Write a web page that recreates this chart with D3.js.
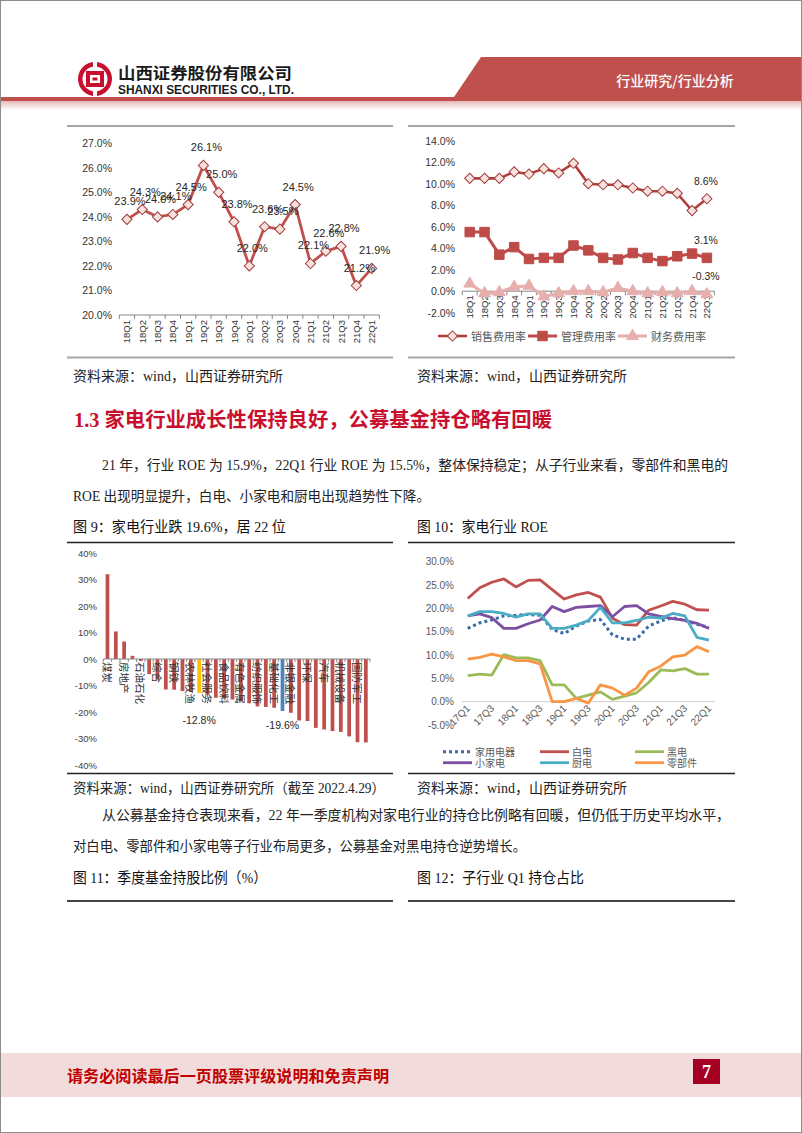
<!DOCTYPE html>
<html>
<head>
<meta charset="utf-8">
<script src="https://cdn.jsdelivr.net/npm/d3@7"></script>
<style>
  body { margin: 0; background: #fff; }
  svg text { font-family: "Liberation Serif", "Noto Sans CJK SC", serif; }
  .sans { font-family: "Liberation Sans", "Noto Sans CJK SC", sans-serif; }
  .cjk { font-family: "Noto Sans CJK SC", sans-serif; }
</style>
</head>
<body>
<svg id="page" width="802" height="1133"></svg>
<script>
// ---- data: gross margin chart (left top) ----
var quarters = ["18Q1","18Q2","18Q3","18Q4","19Q1","19Q2","19Q3","19Q4","20Q1","20Q2","20Q3","20Q4","21Q1","21Q2","21Q3","21Q4","22Q1"];
var grossMargin = [23.9,24.3,24.0,24.1,24.5,26.1,25.0,23.8,22.0,23.6,23.5,24.5,22.1,22.6,22.8,21.2,21.9];

// ---- data: expense ratios (right top) ----
var salesRate = [10.5,10.5,10.5,11.1,10.9,11.4,11.0,11.9,10.0,9.9,9.9,9.6,9.3,9.3,9.1,7.5,8.6];
var mgmtRate  = [5.5,5.5,3.4,4.1,3.0,3.1,3.1,4.25,3.8,3.1,2.95,3.55,3.1,2.8,3.25,3.5,3.1];
var finRate   = [0.7,-0.2,-0.1,0.4,0.5,-0.5,-0.2,0.0,0.0,-0.1,0.3,0.0,-0.2,-0.1,-0.2,0.0,-0.3];
var expenseNames = ["销售费用率","管理费用率","财务费用率"];

// ---- data: industry returns (fig 9) ----
var industries = ["煤炭","银行","房地产","公用事业","石油石化","交通运输","综合","建筑装饰","钢铁","商贸零售",
  "农林牧渔","沪深300","社会服务","医药生物","食品饮料","美容护理","有色金属","轻工制造","纺织服饰","传媒",
  "基础化工","家用电器","非银金融","建筑材料","环保","通信","汽车","计算机","机械设备","电力设备","国防军工","电子"];
var industryChange = [32.0,10.4,6.6,1.2,-0.8,-5.7,-7.7,-11.5,-11.6,-12.1,-12.4,-12.8,-13.5,-14.6,-15.0,-15.3,
  -15.9,-16.7,-17.9,-18.1,-18.4,-19.6,-20.3,-23.2,-23.4,-26.0,-26.6,-27.2,-27.5,-29.2,-31.4,-31.5];
var industryTicks = [-40,-30,-20,-10,0,10,20,30,40];
var highlighted = ["沪深300","家用电器"];

// ---- data: sub-industry ROE (fig 10) ----
var roeQuarters = ["17Q1","17Q2","17Q3","17Q4","18Q1","18Q2","18Q3","18Q4","19Q1","19Q2","19Q3","19Q4",
  "20Q1","20Q2","20Q3","20Q4","21Q1","21Q2","21Q3","21Q4","22Q1"];
var roeHome    = [15.7,16.9,17.5,18.4,18.5,18.7,18.5,15.5,14.6,16.2,17.3,17.6,14.3,13.4,13.4,16.2,17.3,18.0,17.4,16.6,15.9];
var roeWhite   = [22.1,24.4,25.6,26.3,24.6,26.0,26.1,24.0,22.0,22.9,23.4,22.4,17.9,16.5,16.4,19.6,20.5,21.5,20.9,19.7,19.6];
var roeBlack   = [5.6,5.9,5.7,10.1,9.4,9.4,8.8,3.6,3.6,0.7,1.4,2.1,0.5,1.2,1.9,4.1,6.8,6.6,7.1,5.9,5.9];
var roeSmall   = [18.4,18.8,18.0,15.7,15.7,16.7,17.5,20.4,19.3,20.2,20.4,20.6,18.2,20.4,20.6,18.8,18.3,17.8,17.4,16.8,15.7];
var roeKitchen = [18.4,19.3,19.3,18.9,18.1,18.8,18.8,15.7,15.7,16.4,17.4,20.2,16.9,16.9,17.4,18.1,17.9,18.9,18.4,13.8,13.2];
var roeParts   = [9.1,9.5,10.2,9.6,8.8,8.8,8.1,0.0,0.0,0.7,-0.3,3.6,2.9,1.4,2.9,6.4,7.6,9.6,10.0,11.8,10.7];
var roeNames   = ["家用电器","白电","黑电","小家电","厨电","零部件"];

var svg = d3.select("#page");
var RED = "#C0504D";

// ---------------- page frame, header and footer ----------------
svg.append("rect").attr("x", 0.5).attr("y", 0.5).attr("width", 801).attr("height", 1132)
  .attr("fill", "none").attr("stroke", "#8c8c8c");

var grad = svg.append("defs").append("linearGradient").attr("id", "shade")
  .attr("x1", 0).attr("y1", 0).attr("x2", 0).attr("y2", 1);
grad.append("stop").attr("offset", 0).attr("stop-color", "#E6B9B8");
grad.append("stop").attr("offset", 1).attr("stop-color", "#ffffff");
svg.append("rect").attr("x", 1).attr("y", 101).attr("width", 800).attr("height", 9).attr("fill", "url(#shade)");
svg.append("rect").attr("x", 1).attr("y", 97).attr("width", 800).attr("height", 4).attr("fill", RED);
svg.append("path").attr("d", "M481,57 L801,57 L801,100 L452,100 Z").attr("fill", RED);
svg.append("text").attr("class", "cjk").attr("x", 675).attr("y", 80).attr("text-anchor", "middle")
  .attr("dominant-baseline", "central").attr("fill", "#fff").attr("font-size", 14).attr("font-weight", 500)
  .text("行业研究/行业分析");

// logo
var logo = svg.append("g").attr("transform", "translate(95,79)");
logo.append("circle").attr("r", 17).attr("fill", "#C8102E");
logo.append("circle").attr("r", 12.5).attr("fill", "#fff");
logo.append("rect").attr("x", -2).attr("y", -18).attr("width", 4).attr("height", 7).attr("fill", "#fff");
logo.append("rect").attr("x", -2).attr("y", 11).attr("width", 4).attr("height", 7).attr("fill", "#fff");
logo.append("rect").attr("x", -9).attr("y", -8).attr("width", 18).attr("height", 16).attr("fill", "#C8102E");
logo.append("rect").attr("x", -5).attr("y", -4).attr("width", 10).attr("height", 8).attr("fill", "#fff");
logo.append("rect").attr("x", -2.5).attr("y", -1.5).attr("width", 5).attr("height", 3).attr("fill", "#C8102E");

svg.append("text").attr("class", "cjk").attr("x", 118).attr("y", 72).attr("dominant-baseline", "central")
  .attr("font-size", 16).attr("font-weight", 700).attr("fill", "#1a1a1a")
  .attr("textLength", 174).attr("lengthAdjust", "spacingAndGlyphs").text("山西证券股份有限公司");
svg.append("text").attr("class", "sans").attr("x", 118).attr("y", 90).attr("dominant-baseline", "central")
  .attr("font-size", 12.5).attr("font-weight", 700).attr("fill", "#1a1a1a")
  .attr("textLength", 176).attr("lengthAdjust", "spacingAndGlyphs").text("SHANXI SECURITIES CO., LTD.");

svg.append("rect").attr("x", 1).attr("y", 1053).attr("width", 800).attr("height", 44).attr("fill", "#F2DCDB");
svg.append("text").attr("class", "cjk").attr("x", 67).attr("y", 1075).attr("dominant-baseline", "central")
  .attr("font-size", 16).attr("font-weight", 700).attr("fill", "#C00000")
  .attr("textLength", 322).attr("lengthAdjust", "spacingAndGlyphs").text("请务必阅读最后一页股票评级说明和免责声明");
svg.append("rect").attr("x", 693).attr("y", 1059).attr("width", 27).attr("height", 25).attr("fill", "#A50021");
svg.append("text").attr("x", 706.5).attr("y", 1072).attr("text-anchor", "middle").attr("dominant-baseline", "central")
  .attr("font-size", 18).attr("font-weight", 700).attr("fill", "#fff").text("7");

// ---------------- body text ----------------
function bodyText(x, y, str, size, len, color, weight, cls) {
  var t = svg.append("text").attr("x", x).attr("y", y).attr("dominant-baseline", "central")
    .attr("font-size", size).attr("fill", color || "#222").attr("font-weight", weight || 400).text(str);
  if (cls) t.attr("class", cls);
  if (len) t.attr("textLength", len).attr("lengthAdjust", "spacingAndGlyphs");
  return t;
}
function rule(x1, x2, y, color, w) {
  svg.append("line").attr("x1", x1).attr("x2", x2).attr("y1", y).attr("y2", y)
    .attr("stroke", color).attr("stroke-width", w);
}

rule(67, 393, 126, "#a6a6a6", 2);
rule(408, 735, 126, "#a6a6a6", 2);
rule(67, 393, 357.5, "#a6a6a6", 2);
rule(408, 735, 357.5, "#a6a6a6", 2);
bodyText(73, 376, "资料来源：wind，山西证券研究所", 14, 210);
bodyText(417, 376, "资料来源：wind，山西证券研究所", 14, 210);

bodyText(74, 420, "1.3  家电行业成长性保持良好，公募基金持仓略有回暖", 20, 478, "#C8102E", 700);
bodyText(102, 465, "21 年，行业 ROE 为 15.9%，22Q1 行业 ROE 为 15.5%，整体保持稳定；从子行业来看，零部件和黑电的", 14, 626);
bodyText(73, 496, "ROE 出现明显提升，白电、小家电和厨电出现趋势性下降。", 14, 357);

bodyText(73, 527, "图 9：家电行业跌 19.6%，居 22 位", 15, 213, "#111");
bodyText(417, 527, "图 10：家电行业 ROE", 15, 131, "#111");
rule(67, 393, 542.5, "#222", 1.5);
rule(408, 735, 542.5, "#222", 1.5);
rule(67, 393, 773.5, "#222", 1.5);
rule(408, 735, 773.5, "#222", 1.5);
bodyText(73, 788, "资料来源：wind，山西证券研究所（截至 2022.4.29）", 14, 312);
bodyText(417, 788, "资料来源：wind，山西证券研究所", 14, 210);

bodyText(102, 815, "从公募基金持仓表现来看，22 年一季度机构对家电行业的持仓比例略有回暖，但仍低于历史平均水平，", 14, 628);
bodyText(73, 846, "对白电、零部件和小家电等子行业布局更多，公募基金对黑电持仓逆势增长。", 14, 453);
bodyText(73, 878, "图 11：季度基金持股比例（%）", 15, 194, "#111");
bodyText(417, 878, "图 12：子行业 Q1 持仓占比", 15, 167, "#111");
rule(67, 393, 901, "#444", 2);
rule(408, 735, 901, "#444", 2);

// ---------------- helpers for charts ----------------
function yLabels(g, y, xRight, values, fmt, size, color) {
  var ax = d3.axisLeft(y).tickValues(values).tickFormat(fmt).tickSize(0).tickPadding(0);
  var a = g.append("g").attr("transform", "translate(" + xRight + ",0)").call(ax);
  a.select(".domain").remove();
  a.selectAll("text").attr("class", "sans").attr("font-size", size).attr("fill", color);
}
function catAxis(g, x, y0, tickLen, color) {
  var r = x.range();
  g.append("line").attr("x1", r[0]).attr("x2", r[1]).attr("y1", y0).attr("y2", y0)
    .attr("stroke", color).attr("stroke-width", 1);
  var n = x.domain().length;
  for (var i = 0; i <= n; i++) {
    var xx = r[0] + i * x.step();
    g.append("line").attr("x1", xx).attr("x2", xx).attr("y1", y0).attr("y2", y0 + tickLen)
      .attr("stroke", color).attr("stroke-width", 1);
  }
}

// ---------------- chart 1: gross margin ----------------
(function () {
  var g = svg.append("g");
  var x = d3.scaleBand().domain(quarters).range([119.3, 379.3]);
  var y = d3.scaleLinear().domain([20, 27]).range([315, 143.3]);
  var cx = function (i) { return x(quarters[i]) + x.bandwidth() / 2; };
  yLabels(g, y, 112, d3.range(20, 27.01, 1), function (d) { return d.toFixed(1) + "%"; }, 10.5, "#333");
  catAxis(g, x, y(20), 4, "#888");
  quarters.forEach(function (q, i) {
    g.append("text").attr("class", "sans").attr("transform", "translate(" + cx(i) + "," + (y(20) + 5) + ") rotate(-90)")
      .attr("text-anchor", "end").attr("dominant-baseline", "central").attr("font-size", 9.5).attr("fill", "#333").text(q);
  });
  var line = d3.line().x(function (d, i) { return cx(i); }).y(function (d) { return y(d); });
  g.append("path").datum(grossMargin).attr("d", line).attr("fill", "none").attr("stroke", RED).attr("stroke-width", 2.8);
  var diamond = d3.symbol().type(d3.symbolSquare).size(52);
  g.selectAll(".m").data(grossMargin).enter().append("path")
    .attr("transform", function (d, i) { return "translate(" + cx(i) + "," + y(d) + ") rotate(45)"; })
    .attr("d", diamond).attr("fill", "#F6E1DF").attr("stroke", "#A33B38").attr("stroke-width", 1);
  g.selectAll(".l").data(grossMargin).enter().append("text").attr("class", "sans")
    .attr("x", function (d, i) { return cx(i) + 3; }).attr("y", function (d) { return y(d) - 18; })
    .attr("text-anchor", "middle").attr("dominant-baseline", "central").attr("font-size", 11).attr("fill", "#262626")
    .text(function (d) { return d.toFixed(1) + "%"; });
})();

// ---------------- chart 2: expense ratios ----------------
(function () {
  var g = svg.append("g");
  var x = d3.scaleBand().domain(quarters).range([462.3, 714.3]);
  var y = d3.scaleLinear().domain([-2, 14]).range([312.7, 140.7]);
  var cx = function (i) { return x(quarters[i]) + x.bandwidth() / 2; };
  yLabels(g, y, 455, d3.range(-2, 14.01, 2), function (d) { return d.toFixed(1) + "%"; }, 10.5, "#333");
  catAxis(g, x, y(0), 4, "#888");
  quarters.forEach(function (q, i) {
    g.append("text").attr("class", "sans").attr("transform", "translate(" + cx(i) + "," + (y(0) + 4) + ") rotate(-90)")
      .attr("text-anchor", "end").attr("dominant-baseline", "central").attr("font-size", 9.5).attr("fill", "#333").text(q);
  });
  var line = d3.line().x(function (d, i) { return cx(i); }).y(function (d) { return y(d); });
  var series = [
    { v: salesRate, stroke: "#B03F3C", w: 2.6, sym: d3.symbolSquare, size: 52, rot: 45, fill: "#F6E1DF", ms: "#A33B38" },
    { v: mgmtRate, stroke: "#BE4B48", w: 3, sym: d3.symbolSquare, size: 90, rot: 0, fill: "#BE4B48", ms: "#BE4B48" },
    { v: finRate, stroke: "#E6AFAD", w: 3, sym: d3.symbolTriangle, size: 60, rot: 0, fill: "#E6AFAD", ms: "#E6AFAD" }
  ];
  series.slice().reverse().forEach(function (s) {
    g.append("path").datum(s.v).attr("d", line).attr("fill", "none").attr("stroke", s.stroke).attr("stroke-width", s.w);
    g.selectAll(null).data(s.v).enter().append("path")
      .attr("transform", function (d, i) { return "translate(" + cx(i) + "," + y(d) + ") rotate(" + s.rot + ")"; })
      .attr("d", d3.symbol().type(s.sym).size(s.size)).attr("fill", s.fill).attr("stroke", s.ms).attr("stroke-width", 1);
  });
  var last = quarters.length - 1;
  series.forEach(function (s) {
    g.append("text").attr("class", "sans").attr("x", cx(last) - 1).attr("y", y(s.v[last]) - 18)
      .attr("text-anchor", "middle").attr("dominant-baseline", "central").attr("font-size", 10.5).attr("fill", "#262626")
      .text(s.v[last].toFixed(1) + "%");
  });
  // legend
  var lx = [438, 528, 618];
  series.forEach(function (s, k) {
    var lg = g.append("g").attr("transform", "translate(" + lx[k] + ",336)");
    lg.append("line").attr("x1", 0).attr("x2", 29).attr("stroke", s.stroke).attr("stroke-width", s.w);
    lg.append("path").attr("transform", "translate(14.5,0) rotate(" + s.rot + ")")
      .attr("d", d3.symbol().type(s.sym).size(s.size)).attr("fill", s.fill).attr("stroke", s.ms);
    lg.append("text").attr("class", "cjk").attr("x", 33).attr("dominant-baseline", "central")
      .attr("font-size", 11).attr("fill", "#595959").text(expenseNames[k]);
  });
})();

// ---------------- fig 9: industry bars ----------------
(function () {
  var g = svg.append("g");
  var x = d3.scaleBand().domain(industries).range([103.3, 370]).paddingInner(0.55).paddingOuter(0.275);
  var xb = d3.scaleBand().domain(industries).range([103.3, 370]);
  var y = d3.scaleLinear().domain([-40, 40]).range([765, 553]);
  yLabels(g, y, 97, industryTicks, function (d) { return d + "%"; }, 9.5, "#404040");
  g.selectAll(".bar").data(industryChange).enter().append("rect")
    .attr("x", function (d, i) { return x(industries[i]); })
    .attr("width", x.bandwidth())
    .attr("y", function (d) { return y(Math.max(0, d)); })
    .attr("height", function (d) { return Math.abs(y(d) - y(0)); })
    .attr("fill", function (d, i) {
      return industries[i] === "家用电器" ? "#4F81BD" : (industries[i] === "沪深300" ? "#FFC000" : RED);
    });
  catAxis(g, xb, y(0), 3, "#888");
  industries.forEach(function (name, i) {
    if (i % 2 !== 0) return;
    g.append("text").attr("class", "cjk")
      .attr("transform", "translate(" + (xb(name) + xb.bandwidth() / 2) + "," + (y(0) + 3) + ") rotate(90)")
      .attr("dominant-baseline", "central").attr("font-size", 10.5).attr("fill", "#333").text(name);
  });
  var labelGap = [27, 14];
  highlighted.forEach(function (name, k) {
    var i = industries.indexOf(name);
    g.append("text").attr("class", "sans").attr("x", xb(name) + xb.bandwidth() / 2)
      .attr("y", y(industryChange[i]) + labelGap[k]).attr("text-anchor", "middle").attr("dominant-baseline", "central")
      .attr("font-size", 10.5).attr("fill", "#262626").text(industryChange[i].toFixed(1) + "%");
  });
})();

// ---------------- fig 10: sub-industry ROE ----------------
(function () {
  var g = svg.append("g");
  var x = d3.scaleBand().domain(roeQuarters).range([461.7, 715]);
  var y = d3.scaleLinear().domain([-5, 30]).range([725, 561.7]);
  var cx = function (i) { return x(roeQuarters[i]) + x.bandwidth() / 2; };
  yLabels(g, y, 454, d3.range(-5, 30.1, 5), function (d) { return d.toFixed(1) + "%"; }, 10, "#595959");
  g.append("line").attr("x1", 461.7).attr("x2", 715).attr("y1", y(0)).attr("y2", y(0))
    .attr("stroke", "#d0d0d0").attr("stroke-width", 1);
  roeQuarters.forEach(function (q, i) {
    if (i % 2 !== 0) return;
    g.append("text").attr("class", "sans").attr("transform", "translate(" + (cx(i) + 3) + ",709) rotate(-45)")
      .attr("text-anchor", "end").attr("font-size", 10).attr("fill", "#595959").text(q);
  });
  var line = d3.line().x(function (d, i) { return cx(i); }).y(function (d) { return y(d); });
  var series = [
    { v: roeHome, c: "#3B6AA8", dash: "3,3" },
    { v: roeWhite, c: "#C0504D" },
    { v: roeBlack, c: "#9BBB59" },
    { v: roeSmall, c: "#7D4FA3" },
    { v: roeKitchen, c: "#4BACC6" },
    { v: roeParts, c: "#F79646" }
  ];
  series.forEach(function (s) {
    var p = g.append("path").datum(s.v).attr("d", line).attr("fill", "none").attr("stroke", s.c)
      .attr("stroke-width", 2.8).attr("stroke-linejoin", "round");
    if (s.dash) p.attr("stroke-dasharray", s.dash).attr("stroke-width", 3);
  });
  var lxs = [443, 540, 635], lys = [751.7, 762.7];
  series.forEach(function (s, k) {
    var lg = g.append("g").attr("transform", "translate(" + lxs[k % 3] + "," + lys[Math.floor(k / 3)] + ")");
    var l = lg.append("line").attr("x1", 0).attr("x2", 29).attr("stroke", s.c).attr("stroke-width", 2.8);
    if (s.dash) l.attr("stroke-dasharray", s.dash).attr("stroke-width", 3);
    lg.append("text").attr("class", "cjk").attr("x", 32).attr("dominant-baseline", "central")
      .attr("font-size", 10).attr("fill", "#595959").text(roeNames[k]);
  });
})();
</script>
</body>
</html>
